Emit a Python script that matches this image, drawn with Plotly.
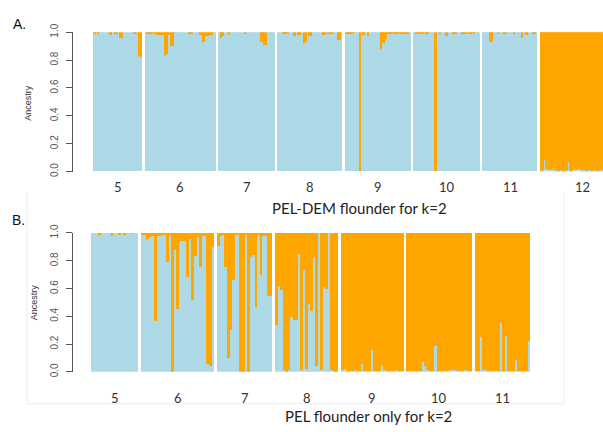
import plotly.graph_objects as go

# ---------------- data: cluster-1 (light blue) ancestry per individual ----------------
popsA = ["5", "6", "7", "8", "9", "10", "11", "12"]
A5 = [0.99,0.995,0.99,1,1,1,1,1,1,1, 0.98,1,1,0.99,0.99,1,0.96,0.96,1,1, 1,1,1,1,1,0.985,0.985,1,0.83,0.82]
A6 = [1,0.99,0.995,0.99,0.99,0.995,0.99,0.98,0.98,0.98, 0.98,0.98,0.83,0.84,0.98,0.98,0.90,0.90,1,1,
      1,1,1,1,1,1,1,0.99,0.99,0.99, 1,1,1,1,0.98,0.98,0.93,1,0.97,0.97, 0.98,0.98,1,1]
A7 = [1,0.96,0.97,1,1,1,0.98,1,1,1, 1,1,1,1,1,1,0.99,1,1,1, 1,1,1,1,1,1,0.93,0.93,0.91,0.91, 1,1,1,1,1]
A8 = [1,1,1,0.99,0.99,0.995,0.99,1,1,1, 0.97,1,0.98,0.98,1,1,0.92,0.93,1,0.97,
      0.97,1,1,1,1,1,1,1,0.98,0.98, 1,0.985,0.985,0.985,1,1,1,0.94,0.94,1]
A9 = [0.99,0.99,0.995,0.99,0.99,0.995,1,1,1,0.0, 1,0.98,1,1,0.97,1,1,1,1,1,
      1,1,0.88,0.92,0.92,0.95,0.985,0.985,0.985,0.99, 0.995,0.99,0.99,0.995,0.99,0.99,0.99,0.995,0.99,0.99, 1]
A10 = [1,0.99,0.99,0.995,0.99,0.99,0.995,0.99,0.99,1, 1,1,1,0.0,1,1,0.985,1,1,1,
       0.97,1,1,1,0.99,0.99,0.99,1,1,1, 0.985,0.985,0.985,1,0.99,0.99,0.995,0.99,1,1, 1]
A11 = [1,1,1,1,0.93,0.93,1,1,1,0.985, 1,1,1,0.99,0.99,1,1,1,1,0.985, 1,1,1,1,0.96,1,1,0.98,1,1, 1,0.985,0.985,1]
A12 = [0.005,0.01,0.078,0.015,0.015,0.012,0.015,0.008,0.025,0.01, 0.008,0.005,0.01,0.005,0.008,0.005,0.01,0.07,0.008,0.005,
       0.015,0.015,0.012,0.015,0.015,0.01,0.008,0.01,0.005,0.008, 0.01,0.008,0.005,0.01,0.008,0.005,0.01,0.005,0.008,0.01,
       0.005,0.01,0.008,0.005,0.01,0.005,0.008,0.01,0.005,0.008, 0.01,0.005]
panelA = [A5, A6, A7, A8, A9, A10, A11, A12]

popsB = ["5", "6", "7", "8", "9", "10", "11"]
B5 = [1,1,1,0.99,1,1,1,1,0.975,1, 1,0.99,1,0.985,1,1,0.995,1,1]
B6 = [0.99,0.99,0.96,0.97,0.975,0.365,0.975,0.975,0.99,0.99, 0.79,0.99,0.0,0.875,0.45,0.94,0.94,0.94,0.685,0.96,
      0.52,0.835,0.97,0.755,0.98,0.98,0.06,0.045,0.9]
B7 = [0.91,0.98,0.985,0.755,0.10,0.30,0.66,0.99,0.99,0.0, 0.0,0.99,0.0,0.825,0.845,0.47,0.99,0.70,0.98,0.98, 0.545,0.545]
B8 = [0.335,0.62,0.59,0.01,0.0,0.01,0.395,0.37,0.37,0.85, 0.01,0.73,0.02,0.49,0.435,0.825,0.045,1.0,0.01,0.61,
      0.60,1.0,0.01,0.0,0.0]
B9 = [0.01,0.02,0.005,0.008,0.005,0.01,0.005,0.008,0.058,0.005, 0.008,0.005,0.16,0.005,0.008,0.005,0.05,0.012,0.005,0.008,
      0.005,0.005,0.01,0.005,0.008]
B10 = [0.008,0.005,0.005,0.008,0.005,0.005,0.07,0.04,0.015,0.005, 0.005,0.185,0.005,0.005,0.008,0.005,0.005,0.01,0.01,0.01,
       0.005,0.005,0.008,0.015,0.005,0.005]
B11 = [0.005,0.008,0.25,0.01,0.01,0.005,0.005,0.005,0.008,0.005, 0.355,0.005,0.26,0.005,0.005,0.008,0.086,0.005,0.005,0.008,
       0.005,0.225]
panelB = [B5, B6, B7, B8, B9, B10, B11]

yticks = [0.0, 0.2, 0.4, 0.6, 0.8, 1.0]
ytick_text = ["0.0", "0.2", "0.4", "0.6", "0.8", "1.0"]

titleA = "PEL-DEM flounder for k=2"
titleB = "PEL flounder only for k=2"

BLUE = "#ADD8E6"
ORANGE = "#FFA500"

W, H = 603, 432
BAR_W = 1.12  # slight overlap hides anti-aliasing seams between neighbours


def layout_positions(groups, gap):
    xs, qs, centers = [], [], []
    off = 0.0
    for g in groups:
        pos = [off + i for i in range(len(g))]
        xs += pos
        qs += g
        centers.append((pos[0] + pos[-1]) / 2)
        off += len(g) + gap
    return xs, qs, centers


xA, qA, cA = layout_positions(panelA, 2.0)
xB, qB, cB = layout_positions(panelB, 1.2)

fig = go.Figure()
for xs, qs, ax in [(xA, qA, ("x", "y")), (xB, qB, ("x2", "y2"))]:
    fig.add_trace(go.Bar(x=xs, y=qs, width=BAR_W, marker=dict(color=BLUE, line=dict(width=0)),
                         xaxis=ax[0], yaxis=ax[1], hoverinfo="skip", showlegend=False))
    fig.add_trace(go.Bar(x=xs, y=[1 - q for q in qs], width=BAR_W, marker=dict(color=ORANGE, line=dict(width=0)),
                         xaxis=ax[0], yaxis=ax[1], hoverinfo="skip", showlegend=False))

# axis geometry (pixels)
axis_x = 73
unitA = 1.6
unitB = 2.507
startA = -0.5 - (94 - axis_x) / unitA
startB = -0.5 - (90.7 - axis_x) / unitB
rangeA = [startA, startA + (W - axis_x) / unitA]
rangeB = [startB, startB + (W - axis_x) / unitB]

def ydom(top, bot):
    return [1 - bot / H, 1 - top / H]

yaxis_common = dict(range=[0, 1], showline=True, linecolor="#555", linewidth=1, ticks="outside",
                    ticklen=6, tickcolor="#555", tickvals=yticks, ticktext=ytick_text, tickangle=-90,
                    tickfont=dict(family="Liberation Sans, Arial, sans-serif", size=10, color="#555"),
                    showgrid=False, zeroline=False, fixedrange=True, ticklabelstandoff=4)
xaxis_common = dict(showticklabels=False, showline=False, ticks="", showgrid=False, zeroline=False,
                    domain=[axis_x / W, 1])

fig.update_layout(
    width=W, height=H, autosize=False,
    margin=dict(l=0, r=0, t=0, b=0),
    paper_bgcolor="white", plot_bgcolor="white",
    barmode="stack", bargap=0,
    xaxis=dict(range=rangeA, anchor="y", **xaxis_common),
    yaxis=dict(domain=ydom(24, 168), anchor="x", **yaxis_common),
    xaxis2=dict(range=rangeB, anchor="y2", **xaxis_common),
    yaxis2=dict(domain=ydom(231.5, 375), anchor="x2", **yaxis_common),
)

lab_font = dict(family="Lato, Open Sans, sans-serif", size=13, color="#333")
ann = []
for p, c in zip(popsA, cA):
    ann.append(dict(x=c, y=1 - 184 / H, xref="x", yref="paper", text=p, showarrow=False,
                    font=lab_font, xanchor="center", yanchor="middle"))
for p, c in zip(popsB, cB):
    ann.append(dict(x=c, y=1 - 402 / H, xref="x2", yref="paper", text=p, showarrow=False,
                    font=lab_font, xanchor="center", yanchor="middle"))

title_font = dict(family="Lato, Open Sans, sans-serif", size=15, color="#222")
ann.append(dict(x=360 / W, y=1 - 206 / H, xref="paper", yref="paper", text=titleA, showarrow=False,
                font=title_font, xanchor="center", yanchor="middle"))
ann.append(dict(x=368 / W, y=1 - 421 / H, xref="paper", yref="paper", text=titleB, showarrow=False,
                font=title_font, xanchor="center", yanchor="middle"))

letter_font = dict(family="Liberation Sans, Arial, sans-serif", size=14, color="#111")
ann.append(dict(x=19 / W, y=1 - 15 / H, xref="paper", yref="paper", text="A.", showarrow=False,
                font=letter_font, xanchor="center", yanchor="middle"))
ann.append(dict(x=18 / W, y=1 - 218 / H, xref="paper", yref="paper", text="B.", showarrow=False,
                font=letter_font, xanchor="center", yanchor="middle"))

anc_font = dict(family="Liberation Sans, Arial, sans-serif", size=9, color="#333")
ann.append(dict(x=28 / W, y=1 - 97 / H, xref="paper", yref="paper", text="Ancestry", showarrow=False,
                font=anc_font, textangle=-90, xanchor="center", yanchor="middle"))
ann.append(dict(x=34 / W, y=1 - 303 / H, xref="paper", yref="paper", text="Ancestry", showarrow=False,
                font=anc_font, textangle=-90, xanchor="center", yanchor="middle"))
fig.update_layout(annotations=ann)

# faint frame of the lower image panel
frame = "#ececec"
shapes = [
    dict(type="line", xref="paper", yref="paper", x0=27 / W, x1=27 / W, y0=1 - 408 / H, y1=1 - 190 / H,
         line=dict(color=frame, width=1)),
    dict(type="line", xref="paper", yref="paper", x0=27 / W, x1=564 / W, y0=1 - 408 / H, y1=1 - 408 / H,
         line=dict(color=frame, width=1)),
    dict(type="line", xref="paper", yref="paper", x0=564 / W, x1=564 / W, y0=1 - 408 / H, y1=1 - 190 / H,
         line=dict(color=frame, width=1)),
]
fig.update_layout(shapes=shapes)

fig.write_html("out.html")
